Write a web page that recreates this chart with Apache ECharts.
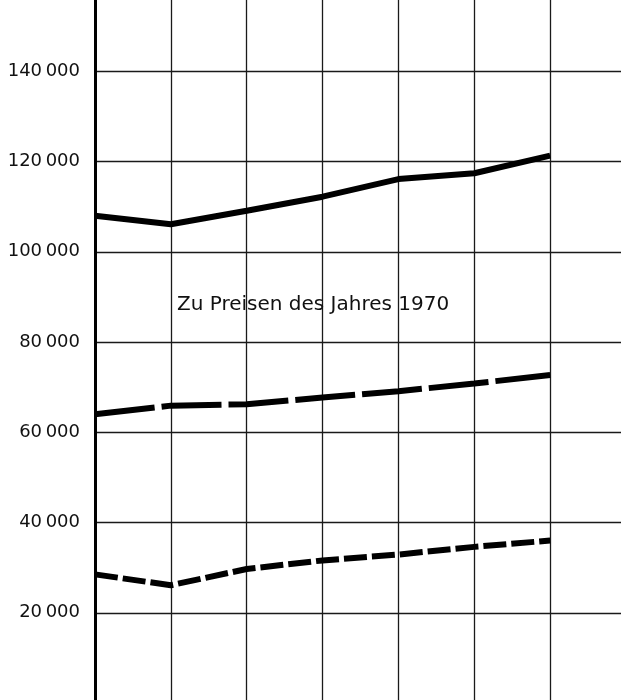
<!DOCTYPE html>
<html>
<head>
<meta charset="utf-8">
<script src="https://cdn.jsdelivr.net/npm/echarts@6/dist/echarts.min.js"></script>
<style>
html,body{margin:0;padding:0;background:#fff;}
#chart{width:621px;height:700px;}
</style>
</head>
<body>
<div id="chart"></div>
<script>
// Category slots (x labels are not visible in the reference)
var categories = ['1', '2', '3', '4', '5', '6', '7', '8'];
// Y tick values (0 and 160 000 fall outside the visible picture)
var yTicks = [0, 20000, 40000, 60000, 80000, 100000, 120000, 140000, 160000];
// Series values
var solidSeries = [108000, 106100, 109100, 112200, 116100, 117400, 121300];
var longDashSeries = [64000, 65900, 66200, 67700, 69100, 70800, 72700];
var shortDashSeries = [28500, 26100, 29700, 31600, 32900, 34600, 36000];
var annotation = 'Zu Preisen des Jahres 1970';

function fmt(v) {
  if (v === 0) return '';
  var s = String(v);
  if (s.length > 3) {
    return s.slice(0, s.length - 3) + '\u2009' + s.slice(s.length - 3);
  }
  return s;
}

var chart = echarts.init(document.getElementById('chart'), null, {renderer: 'canvas'});
var option = {
  backgroundColor: '#ffffff',
  animation: false,
  grid: {
    left: 95,
    right: -5,
    top: -19,
    bottom: -3,
    containLabel: false,
    outerBoundsMode: 'none'
  },
  xAxis: {
    type: 'category',
    data: categories,
    boundaryGap: false,
    axisLine: {show: false},
    axisTick: {show: false},
    axisLabel: {show: false},
    splitLine: {show: true, lineStyle: {color: '#1a1a1a', width: 1.3}}
  },
  yAxis: {
    type: 'value',
    min: yTicks[0],
    max: yTicks[yTicks.length - 1],
    interval: yTicks[1] - yTicks[0],
    axisLine: {show: true, lineStyle: {color: '#000', width: 3}},
    axisTick: {show: false},
    axisLabel: {
      show: true,
      margin: 15,
      color: '#111',
      fontFamily: 'DejaVu Sans',
      fontSize: 18,
      formatter: function (v) { return fmt(v); }
    },
    splitLine: {show: true, lineStyle: {color: '#1a1a1a', width: 1.3}}
  },
  series: [
    {
      type: 'line',
      data: solidSeries,
      symbol: 'none',
      lineStyle: {color: '#000', width: 6, type: 'solid'},
      z: 5
    },
    {
      type: 'line',
      data: longDashSeries,
      symbol: 'none',
      lineStyle: {color: '#000', width: 6, type: [60, 7]},
      z: 5
    },
    {
      type: 'line',
      data: shortDashSeries,
      symbol: 'none',
      lineStyle: {color: '#000', width: 6, type: [23, 5]},
      z: 5
    }
  ],
  graphic: [
    {
      type: 'text',
      left: 177,
      top: 295,
      style: {
        text: annotation,
        fill: '#111',
        font: '20px "DejaVu Sans"'
      },
      z: 10
    }
  ]
};
chart.setOption(option);
</script>
</body>
</html>
